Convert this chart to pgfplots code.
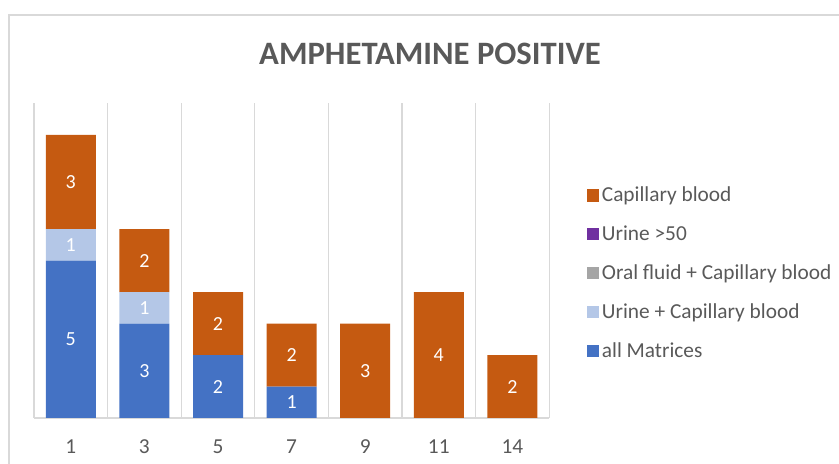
\documentclass[border=0pt]{standalone}
\usepackage{pgfplots}
\pgfplotsset{compat=1.18}
\usepackage{pgfplotstable}
\usepackage{fontspec}
\setmainfont{Carlito}
\definecolor{cblue}{HTML}{4472C4}
\definecolor{corange}{HTML}{C55A11}
\definecolor{clblue}{HTML}{B4C7E7}
\definecolor{cgray}{HTML}{A5A5A5}
\definecolor{cpurple}{HTML}{7030A0}
\definecolor{tgray}{HTML}{595959}
\definecolor{gridgray}{HTML}{D9D9D9}
\newcommand\lbl[1]{\hbox{\fontsize{15}{17}\selectfont #1}}
\newcommand\tlbl[1]{\hbox{\fontsize{16}{18}\selectfont #1}}
\pgfplotstableread{
x all urine oral urinefifty cap
0 5 1 0 0 3
1 3 1 0 0 2
2 2 0 0 0 2
3 1 0 0 0 2
4 0 0 0 0 3
5 0 0 0 0 4
6 0 0 0 0 2
}\data
% label positions (segment centres) and values
\pgfplotstableread{
x ypos lab
0 2.5 5
0 5.5 1
0 7.5 3
1 1.5 3
1 3.5 1
1 5 2
2 1 2
2 3 2
3 0.5 1
3 2 2
4 1.5 3
5 2 4
6 1 2
}\labels
\begin{document}
\begin{tikzpicture}
\useasboundingbox (0,0) rectangle (629.25pt,348pt);
\draw[gridgray, line width=0.8pt] (6.75pt,0) -- (6.75pt,336.75pt) -- (629.25pt,336.75pt);
\node[anchor=base, font=\bfseries\fontsize{24.5}{28}\selectfont, text=tgray] at (322.5pt,299.25pt) {AMPHETAMINE POSITIVE};
\begin{axis}[
  at={(25.5pt,34.5pt)}, anchor=south west,
  scale only axis, x=55.2pt, y=23.6pt,
  xmin=-0.5, xmax=6.5, ymin=0, ymax=10,
  ybar stacked, bar width=37.5pt,
  axis x line*=bottom, axis y line=none,
  x axis line style={gridgray, line width=0.8pt, -},
  xtick={0,...,6},
  xticklabels={\tlbl{1},\tlbl{3},\tlbl{5},\tlbl{7},\tlbl{9},\tlbl{11},\tlbl{14}},
  minor xtick={-0.5,0.5,...,6.5},
  xminorgrids=true, minor grid style={gridgray, line width=0.8pt},
  major tick length=0pt, minor tick length=0pt,
  ytick=\empty,
  xticklabel style={text=tgray, yshift=-12.5pt},
  legend style={at={(1.072,0.744)}, anchor=north west, draw=none, fill=none,
    font=\fontsize{16}{18}\selectfont, text=tgray, row sep=12.6pt, inner sep=0pt,
    nodes={inner sep=2pt}},
  legend cell align=left,
  reverse legend,
  legend image code/.code={\fill[#1] (0pt,-4.75pt) rectangle (9.5pt,4.75pt);},
]
\addplot[fill=cblue, draw=none] table[x=x, y=all] {\data};
\addlegendentry{all Matrices}
\addplot[fill=clblue, draw=none] table[x=x, y=urine] {\data};
\addlegendentry{Urine + Capillary blood}
\addplot[fill=cgray, draw=none] table[x=x, y=oral] {\data};
\addlegendentry{Oral fluid + Capillary blood}
\addplot[fill=cpurple, draw=none] table[x=x, y=urinefifty] {\data};
\addlegendentry{Urine >50}
\addplot[fill=corange, draw=none] table[x=x, y=cap] {\data};
\addlegendentry{Capillary blood}
\end{axis}
\begin{axis}[
  at={(25.5pt,34.5pt)}, anchor=south west,
  scale only axis, x=55.2pt, y=23.6pt,
  xmin=-0.5, xmax=6.5, ymin=0, ymax=10,
  hide axis,
]
\addplot[only marks, mark=*, mark size=0pt, mark options={draw=none, fill=none},
  point meta=explicit symbolic,
  nodes near coords={\lbl{\pgfplotspointmeta}},
  every node near coord/.append style={anchor=center, text=white}]
  table[x=x, y=ypos, meta=lab] {\labels};
\end{axis}
\end{tikzpicture}
\end{document}
